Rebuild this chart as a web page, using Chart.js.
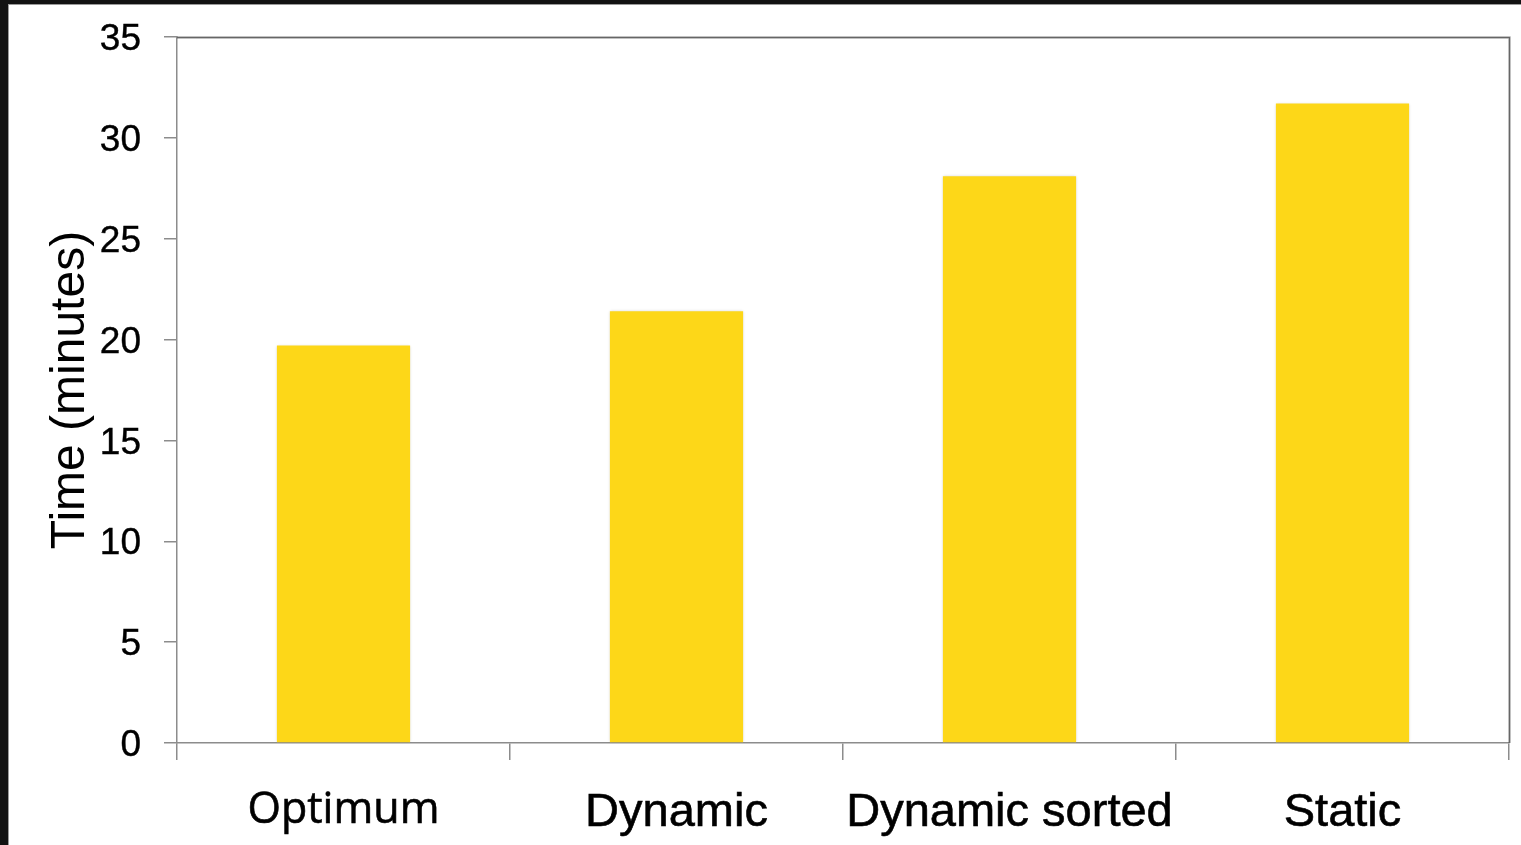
<!DOCTYPE html>
<html>
<head>
<meta charset="utf-8">
<script src="https://cdn.jsdelivr.net/npm/chart.js@4.4.1/dist/chart.umd.min.js"></script>
<style>
  html, body { margin: 0; padding: 0; background: #121212; overflow: hidden; }
  #frame {
    position: absolute; left: 8px; top: 4px; width: 1513px; height: 841px;
    background: #fff; border-left: 1px solid #9a9a9a; border-top: 1px solid #9a9a9a;
  }
  #wrap { position: absolute; left: 0; top: 0; width: 1512px; height: 840px; }
</style>
</head>
<body>
<div id="frame"><div id="wrap"><canvas id="chart"></canvas></div></div>
<script>
// Run time of each scheduling strategy
const categories = ['Optimum', 'Dynamic', 'Dynamic sorted', 'Static'];
const timeMinutes = [19.7, 21.4, 28.1, 31.7];
const yTicks = [0, 5, 10, 15, 20, 25, 30, 35];

const AXIS_GREY = '#8c8c8c';
const BAR_YELLOW = 'rgb(253, 215, 24)';

// Top and right edges of the plot frame, drawn slightly darker than the axes
const plotFrame = {
  id: 'plotFrame',
  afterDraw(chart) {
    const { ctx, chartArea: a } = chart;
    ctx.save();
    ctx.strokeStyle = 'rgba(0,0,0,0.12)';
    ctx.lineWidth = 3;
    ctx.beginPath();
    ctx.moveTo(a.left, a.top + 0.5);
    ctx.lineTo(a.right + 0.5, a.top + 0.5);
    ctx.lineTo(a.right + 0.5, a.bottom);
    ctx.stroke();
    ctx.strokeStyle = '#666';
    ctx.lineWidth = 1.5;
    ctx.stroke();
    ctx.restore();
  }
};

// Soft drop shadow behind the bars
const barShadow = {
  id: 'barShadow',
  beforeDatasetsDraw(chart) {
    const ctx = chart.ctx;
    ctx.save();
    ctx.shadowColor = 'rgba(0,0,0,0.22)';
    ctx.shadowBlur = 3;
    ctx.shadowOffsetX = 0;
    ctx.shadowOffsetY = 0;
  },
  afterDatasetsDraw(chart) {
    chart.ctx.restore();
  }
};

new Chart(document.getElementById('chart'), {
  type: 'bar',
  data: {
    labels: categories,
    datasets: [{
      data: timeMinutes,
      backgroundColor: BAR_YELLOW,
      borderWidth: 0,
      categoryPercentage: 1.0,
      barPercentage: 0.4
    }]
  },
  options: {
    responsive: true,
    maintainAspectRatio: false,
    animation: false,
    devicePixelRatio: 1,
    layout: { padding: { top: 32, right: 12, left: 0, bottom: 0 } },
    plugins: { legend: { display: false }, tooltip: { enabled: false } },
    scales: {
      x: {
        grid: {
          offset: true,
          drawOnChartArea: false,
          drawTicks: true,
          tickLength: 17,
          color: AXIS_GREY,
          lineWidth: 1.5
        },
        border: { display: true, color: AXIS_GREY, width: 1.5 },
        ticks: {
          color: '#000',
          textStrokeColor: '#000',
          textStrokeWidth: 0.6,
          padding: 25,
          maxRotation: 0,
          autoSkip: false,
          font: (c) => c.index === 0
            ? { family: '"Open Sans", sans-serif', size: 43 }
            : { family: '"Liberation Sans", Arial, sans-serif', size: 47 }
        },
        afterFit(scale) { scale.height = 102; scale.paddingLeft = 0; scale.paddingRight = 0; }
      },
      y: {
        min: 0,
        max: 35,
        afterBuildTicks(scale) { scale.ticks = yTicks.map(v => ({ value: v })); },
        grid: {
          drawOnChartArea: false,
          drawTicks: true,
          tickLength: 13,
          color: AXIS_GREY,
          lineWidth: 1.5
        },
        border: { display: true, color: AXIS_GREY, width: 1.5 },
        ticks: {
          color: '#000',
          textStrokeColor: '#000',
          textStrokeWidth: 0.4,
          padding: 23,
          labelOffset: 3,
          font: { family: '"Liberation Sans", Arial, sans-serif', size: 37 }
        },
        title: {
          display: true,
          text: 'Time (minutes)',
          color: '#000',
          font: { family: '"Liberation Sans", Arial, sans-serif', size: 48 },
          padding: { top: 33, bottom: 0 }
        },
        afterFit(scale) { scale.width = 168; scale.paddingTop = 0; scale.paddingBottom = 0; }
      }
    }
  },
  plugins: [barShadow, plotFrame]
});
</script>
</body>
</html>
